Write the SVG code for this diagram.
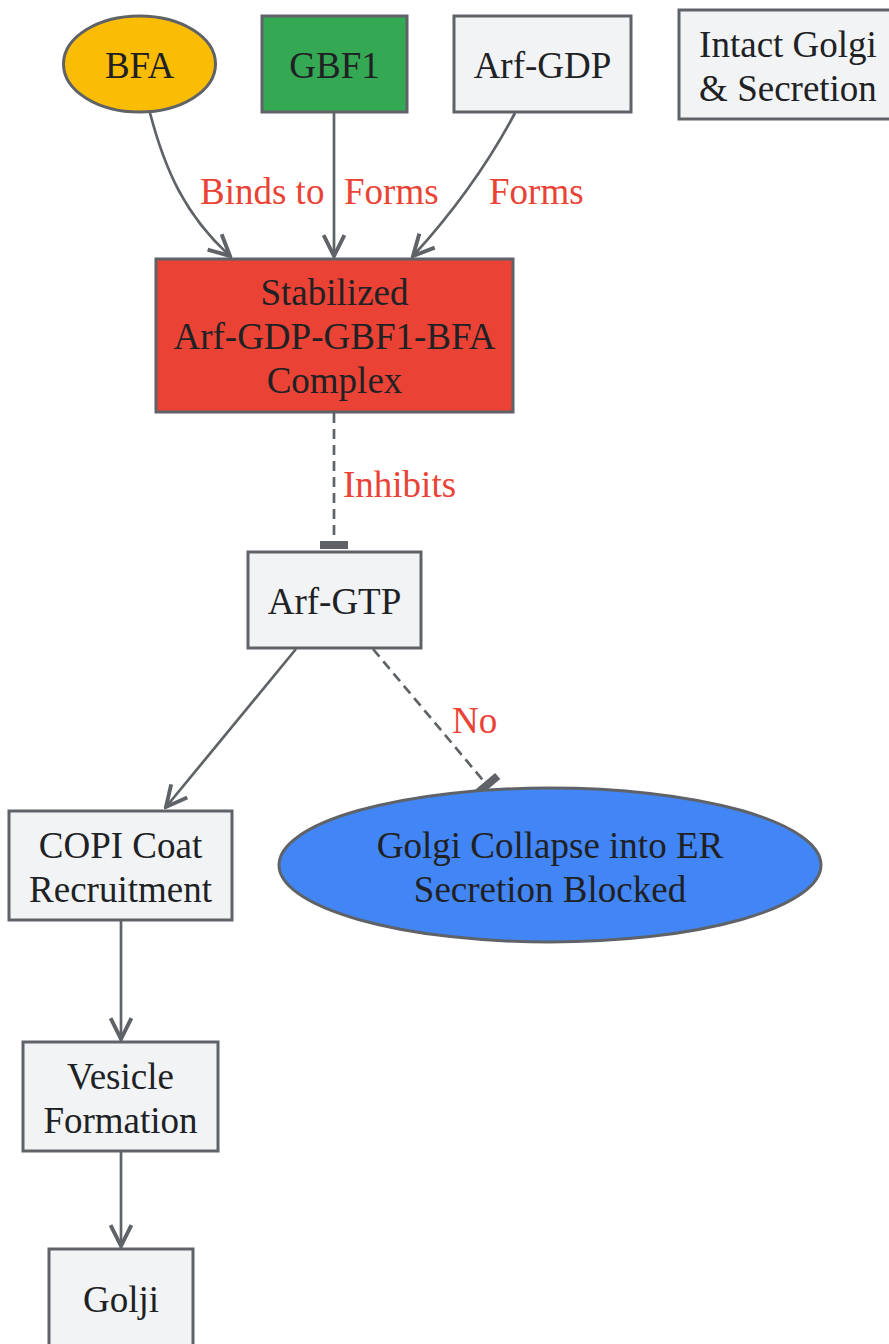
<svg xmlns="http://www.w3.org/2000/svg" width="889" height="1344" viewBox="0 0 889 1344">
<defs>
<style>
.n{stroke:#5f6368;stroke-width:3}
.g{fill:#f1f3f4}
.t{font-family:"Liberation Serif",serif;font-size:37px;fill:#202124;text-anchor:middle;dominant-baseline:central}
.l{font-family:"Liberation Serif",serif;font-size:37px;fill:#ea4335;dominant-baseline:central}
.e{fill:none;stroke:#5f6368;stroke-width:2.7}
.d{stroke-dasharray:10,6}
</style>
<marker id="arr" viewBox="0 0 20 20" refX="18" refY="10" markerWidth="26" markerHeight="26" markerUnits="userSpaceOnUse" orient="auto">
<path d="M2,2 L18,10 L2,18" fill="none" stroke="#5f6368" stroke-width="3"/>
</marker>
<marker id="tee" viewBox="0 0 10 30" refX="5" refY="15" markerWidth="10" markerHeight="30" markerUnits="userSpaceOnUse" orient="auto">
<rect x="1" y="1" width="8" height="28" fill="#5f6368"/>
</marker>
</defs>
<g id="edges">
<path class="e" d="M150,113 C165,170 185,215 230,256" marker-end="url(#arr)"/>
<path class="e" d="M334,113 L334,256" marker-end="url(#arr)"/>
<path class="e" d="M515,113 C490,160 455,210 413,256" marker-end="url(#arr)"/>
<path class="e d" d="M334,413 L334,545" marker-end="url(#tee)"/>
<path class="e" d="M296,649 L166,807" marker-end="url(#arr)"/>
<path class="e d" d="M373,649 L487,785" marker-end="url(#tee)"/>
<path class="e" d="M121,921 L121,1039" marker-end="url(#arr)"/>
<path class="e" d="M121,1152 L121,1246" marker-end="url(#arr)"/>
<text class="l" x="200" y="191">Binds to</text>
<text class="l" x="344" y="191">Forms</text>
<text class="l" x="489" y="191">Forms</text>
<text class="l" x="343" y="484">Inhibits</text>
<text class="l" x="452" y="720">No</text>
</g>
<g id="bfa"><ellipse class="n" cx="139.5" cy="64" rx="76" ry="48" fill="#fbbc04"/><text class="t" x="139.5" y="65">BFA</text></g>
<g id="gbf1"><rect class="n" x="262" y="16" width="145" height="96" fill="#34a853"/><text class="t" x="334.5" y="65">GBF1</text></g>
<g id="arfgdp"><rect class="n g" x="454" y="16" width="177" height="96"/><text class="t" x="542.5" y="65">Arf-GDP</text></g>
<g id="intact"><rect class="n g" x="679" y="10" width="212" height="109"/><text class="t" x="788" y="44">Intact Golgi</text><text class="t" x="788" y="88">&amp; Secretion</text></g>
<g id="complex"><rect class="n" x="156" y="259" width="357" height="153" fill="#ea4335"/><text class="t" x="334.5" y="292">Stabilized</text><text class="t" x="334.5" y="336">Arf-GDP-GBF1-BFA</text><text class="t" x="334.5" y="380">Complex</text></g>
<g id="arfgtp"><rect class="n g" x="248" y="552" width="173" height="96"/><text class="t" x="334.5" y="601">Arf-GTP</text></g>
<g id="copi"><rect class="n g" x="9" y="811" width="223" height="109"/><text class="t" x="120.5" y="845">COPI Coat</text><text class="t" x="120.5" y="889">Recruitment</text></g>
<g id="collapse"><ellipse class="n" cx="550" cy="865" rx="271" ry="77" fill="#4285f4"/><text class="t" x="550" y="845">Golgi Collapse into ER</text><text class="t" x="550" y="889">Secretion Blocked</text></g>
<g id="vesicle"><rect class="n g" x="23" y="1042" width="195" height="109"/><text class="t" x="120.5" y="1076">Vesicle</text><text class="t" x="120.5" y="1120">Formation</text></g>
<g id="golji"><rect class="n g" x="49" y="1249" width="144" height="100"/><text class="t" x="121" y="1299">Golji</text></g>
</svg>
